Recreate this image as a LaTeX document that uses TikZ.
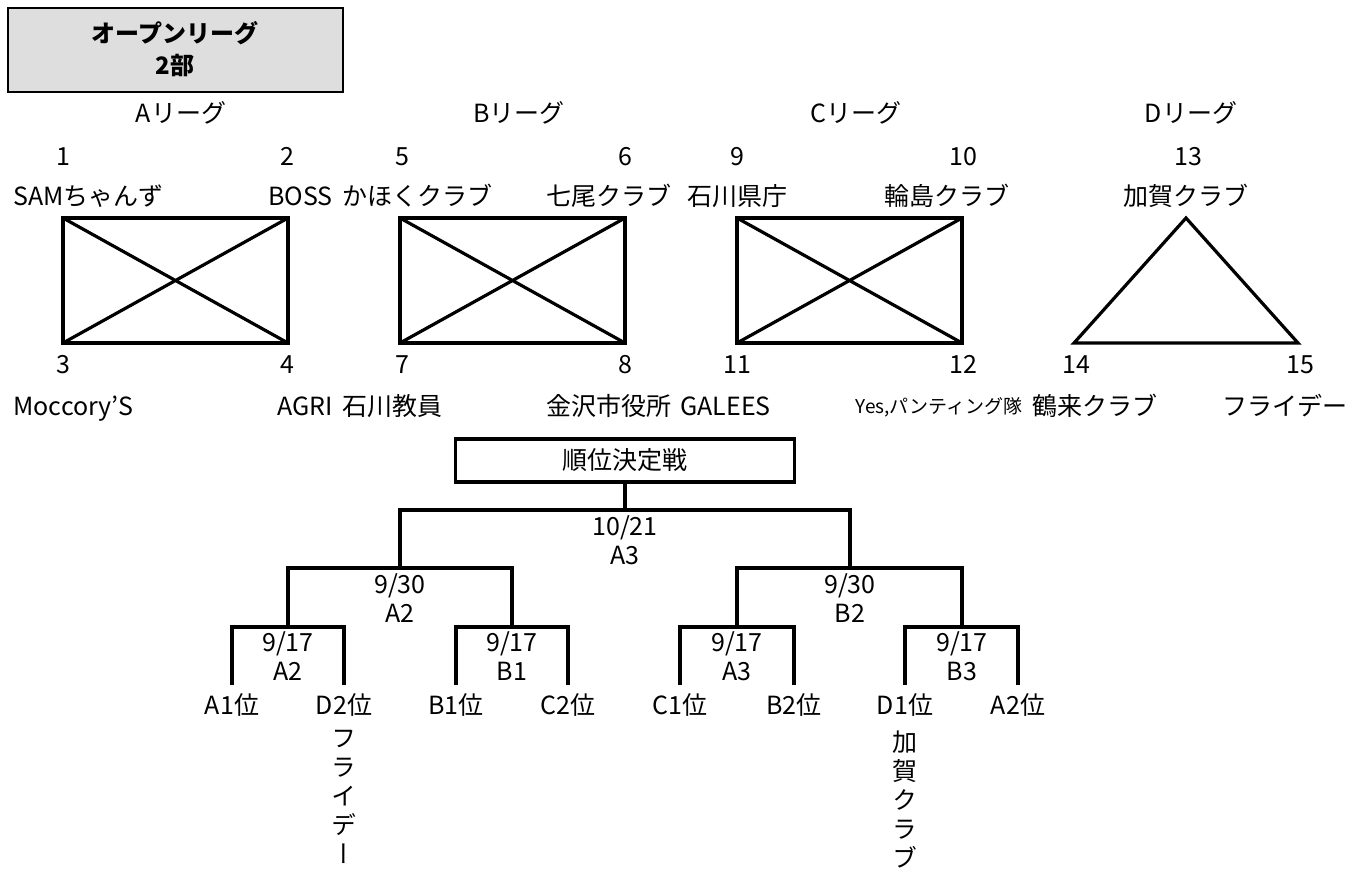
\documentclass[tikz,border=0pt]{standalone}
\usepackage{fontspec}
\setmainfont{Noto Sans CJK JP}
\newfontfamily\tatefont[RawFeature=+vert]{Noto Sans CJK JP}
\usetikzlibrary{positioning}

\tikzset{
	txt/.style={inner sep=0pt, text height=10.5pt, text depth=2pt, font=\fontsize{12.5}{14.5}\selectfont},
	smalltxt/.style={inner sep=0pt, text height=8pt, text depth=1.5pt, font=\fontsize{9.5}{11}\selectfont},
	titletxt/.style={inner sep=0pt, align=center, font=\fontsize{12}{16}\selectfont\bfseries},
	datetxt/.style={inner sep=0pt, align=center, font=\fontsize{12.5}{14.5}\selectfont},
	tate/.style={inner sep=0pt, align=center, anchor=north, font=\fontsize{12.5}{14.5}\selectfont\tatefont},
	seed/.style={txt, inner xsep=0pt, inner ysep=4pt},
	frame/.style={line width=1.9pt},
	cross/.style={line width=1.6pt, line join=miter},
	bracket/.style={line width=1.7pt},
}

\begin{document}
\begin{tikzpicture}[x=0.5pt, y=-0.5pt]
		%%%%% START %%%%%
		\useasboundingbox (0,0) rectangle (1355,872);
		
		\draw[line width=1.2pt, fill=black!13] (8,8) rectangle (343,92);
		\node[titletxt] (title) at (175,49) {オープンリーグ\\2部};
		
		\node[txt] (hA) at (181,114) {Aリーグ};
		\node[txt] (hB) at (519,114) {Bリーグ};
		\node[txt] (hC) at (856,114) {Cリーグ};
		\node[txt] (hD) at (1191,114) {Dリーグ};
		
		% upper numbers and teams
		\node[txt] (n1) at (63,157) {1};
		\node[txt] (n2) at (287,157) {2};
		\node[txt] (n5) at (402,157) {5};
		\node[txt] (n6) at (625,157) {6};
		\node[txt] (n9) at (737,157) {9};
		\node[txt] (n10) at (963,157) {10};
		\node[txt] (n13) at (1188,157) {13};
		
		\node[txt, anchor=west] (t1) at (13,197) {SAMちゃんず};
		\node[txt, anchor=east] (t2) at (333,197) {BOSS};
		\node[txt, anchor=west] (t5) at (342,197) {かほくクラブ};
		\node[txt, anchor=east] (t6) at (672,197) {七尾クラブ};
		\node[txt, anchor=west] (t9) at (687,197) {石川県庁};
		\node[txt, anchor=east] (t10) at (1010,197) {輪島クラブ};
		\node[txt] (t13) at (1186,197) {加賀クラブ};
		
		% league tables
		\foreach \x in {63,400,737} {
			\draw[frame] (\x,218) rectangle ++(225,125);
			\draw[cross] (\x,218) -- ++(225,125) (\x,343) -- ++(225,-125);
		}
		\draw[cross] (1186,218) -- (1298,343) -- (1074,343) -- cycle;
		
		% lower numbers and teams
		\node[txt] (n3) at (63,365) {3};
		\node[txt] (n4) at (287,365) {4};
		\node[txt] (n7) at (402,365) {7};
		\node[txt] (n8) at (625,365) {8};
		\node[txt] (n11) at (737,365) {11};
		\node[txt] (n12) at (963,365) {12};
		\node[txt] (n14) at (1076,365) {14};
		\node[txt] (n15) at (1300,365) {15};
		
		\node[txt, anchor=west] (t3) at (13,407) {Moccory'S};
		\node[txt, anchor=east] (t4) at (333,407) {AGRI};
		\node[txt, anchor=west] (t7) at (342,407) {石川教員};
		\node[txt, anchor=east] (t8) at (672,407) {金沢市役所};
		\node[txt, anchor=west] (t11) at (680,407) {GALEES};
		\node[smalltxt, anchor=east] (t12) at (1023,407) {Yes,パンティング隊};
		\node[txt, anchor=west] (t14) at (1032,407) {鶴来クラブ};
		\node[txt, anchor=east] (t15) at (1348,407) {フライデー};
		
		% play-off
		\node[txt, draw, bracket, minimum width=169.5pt, minimum height=21.5pt] (final) at (625,460.5) {順位決定戦};
		
		\node[seed] (s1) at (232,706) {A1位};
		\node[seed] (s2) at (344,706) {D2位};
		\node[seed] (s3) at (456,706) {B1位};
		\node[seed] (s4) at (568,706) {C2位};
		\node[seed] (s5) at (680,706) {C1位};
		\node[seed] (s6) at (794,706) {B2位};
		\node[seed] (s7) at (905,706) {D1位};
		\node[seed] (s8) at (1018,706) {A2位};
		
		\coordinate (q1) at (288,627);
		\coordinate (q2) at (512,627);
		\coordinate (q3) at (737,627);
		\coordinate (q4) at (962,627);
		\coordinate (p1) at (400,568);
		\coordinate (p2) at (850,568);
		\coordinate (r) at (625,510);
		
		\draw[bracket] (s1.north) |- (q1) -| (s2.north);
		\draw[bracket] (s3.north) |- (q2) -| (s4.north);
		\draw[bracket] (s5.north) |- (q3) -| (s6.north);
		\draw[bracket] (s7.north) |- (q4) -| (s8.north);
		\draw[bracket] (q1) |- (p1) -| (q2);
		\draw[bracket] (q3) |- (p2) -| (q4);
		\draw[bracket] (p1) |- (r) -| (p2);
		\draw[bracket] (r) -- (final.south);
		
		\node[datetxt] (m1) at (288,656) {9/17\\A2};
		\node[datetxt] (m2) at (512,656) {9/17\\B1};
		\node[datetxt] (m3) at (737,656) {9/17\\A3};
		\node[datetxt] (m4) at (962,656) {9/17\\B3};
		\node[datetxt] (k1) at (400,598) {9/30\\A2};
		\node[datetxt] (k2) at (850,598) {9/30\\B2};
		\node[datetxt] (w) at (625,540) {10/21\\A3};
		
		\node[tate] (v1) at (344,730) {フ\\ラ\\イ\\デ\\ー};
		\node[tate] (v2) at (905,730) {加\\賀\\ク\\ラ\\ブ};
		
		%%%%% END %%%%%
\end{tikzpicture}
\end{document}
